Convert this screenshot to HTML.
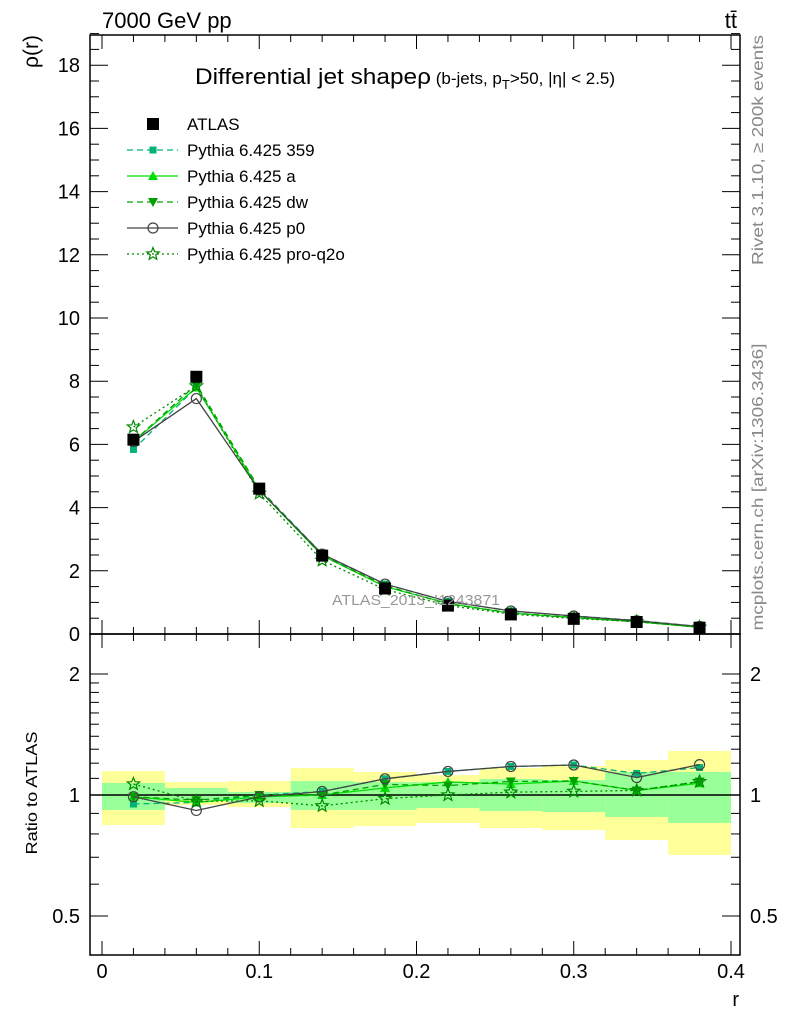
<!DOCTYPE html>
<html><head><meta charset="utf-8"><style>
body{margin:0;background:#fff;font-family:"Liberation Sans",sans-serif}
svg text{font-family:"Liberation Sans","DejaVu Sans",sans-serif}
</style></head><body>
<svg id="c" width="786" height="1024" xmlns="http://www.w3.org/2000/svg"></svg>
<script>
const rCenters=[0.02,0.06,0.10,0.14,0.18,0.22,0.26,0.30,0.34,0.38];
const atlas=[6.15,8.14,4.6,2.48,1.44,0.9,0.62,0.48,0.38,0.2];
const p359=[5.84,7.8,4.6,2.53,1.58,1.03,0.73,0.57,0.43,0.234];
const pA=[6.09,7.8,4.55,2.48,1.5,0.97,0.66,0.52,0.39,0.214];
const pDW=[6.09,7.9,4.6,2.48,1.53,0.95,0.67,0.52,0.39,0.216];
const pP0=[6.09,7.45,4.55,2.53,1.58,1.03,0.73,0.57,0.42,0.238];
const pQ2O=[6.55,7.85,4.45,2.33,1.41,0.9,0.63,0.49,0.39,0.216];
const bandYellowHi=[1.147,1.077,1.083,1.167,1.141,1.121,1.167,1.181,1.222,1.287];
const bandYellowLo=[0.842,0.944,0.933,0.828,0.837,0.852,0.828,0.818,0.773,0.709];
const bandGreenHi=[1.071,1.041,1.017,1.083,1.077,1.077,1.096,1.090,1.141,1.141];
const bandGreenLo=[0.918,0.972,0.955,0.918,0.918,0.928,0.913,0.907,0.882,0.852];
const xTicks=[0,0.1,0.2,0.3,0.4];
const yTicks=[0,2,4,6,8,10,12,14,16,18];
const rTicks=[0.5,1,2];

const svg=document.getElementById('c');
const NS='http://www.w3.org/2000/svg';
function el(t,a,p){const e=document.createElementNS(NS,t);for(const k in a)e.setAttribute(k,a[k]);(p||svg).appendChild(e);return e;}
const L=90,R=740,T=35,MB=634,RB=955;
const x=v=>102+v*1572.5;
const y=v=>634-v*31.6;
const yr=v=>795-121*Math.log2(v);

for(let i=0;i<rCenters.length;i++){
 const x0=x(rCenters[i]-0.02),x1=x(rCenters[i]+0.02);
 const b=el('rect',{x:x0,y:yr(bandYellowHi[i]),width:x1-x0,height:yr(bandYellowLo[i])-yr(bandYellowHi[i]),fill:'#ffff99'});
 
 
 const g=el('rect',{x:x0,y:yr(bandGreenHi[i]),width:x1-x0,height:yr(bandGreenLo[i])-yr(bandGreenHi[i]),fill:'#99ff99'});
 
 
}
el('line',{x1:L,x2:R,y1:yr(1),y2:yr(1),stroke:'#000','stroke-width':1.5});

const f1=el('rect',{x:L,y:T,width:R-L,height:MB-T,fill:'none',stroke:'#000','stroke-width':1.5});

const f2=el('rect',{x:L,y:MB,width:R-L,height:RB-MB,fill:'none',stroke:'#000','stroke-width':1.5});


for(let v=0;v<=0.4001;v+=0.02){
 const maj=Math.abs(v*10-Math.round(v*10))<1e-6;const len=maj?14:7;
 for(const [yt,dir] of [[T,1],[MB,-1],[MB,1],[RB,-1]]) el('line',{x1:x(v),x2:x(v),y1:yt,y2:yt+dir*len,stroke:'#000'});
}
xTicks.forEach(v=>{const t=el('text',{x:x(v),y:978,'font-size':20,'text-anchor':'middle'});t.textContent=v===0?'0':v.toFixed(1);
 });
for(let v=0;v<=19;v+=0.5){const maj=v%2===0;const len=maj?18:9;
 el('line',{x1:L,x2:L+len,y1:y(v),y2:y(v),stroke:'#000'});el('line',{x1:R,x2:R-len,y1:y(v),y2:y(v),stroke:'#000'});}
yTicks.forEach(v=>{const t=el('text',{x:80,y:y(v)+7,'font-size':20,'text-anchor':'end'});t.textContent=v;
 });
[0.5,0.6,0.7,0.8,0.9,1,1.1,1.2,1.3,1.4,1.5,1.6,1.7,1.8,1.9,2].forEach(v=>{const maj=rTicks.includes(v);const len=maj?18:9;
 el('line',{x1:L,x2:L+len,y1:yr(v),y2:yr(v),stroke:'#000'});el('line',{x1:R,x2:R-len,y1:yr(v),y2:yr(v),stroke:'#000'});});
rTicks.forEach(v=>{for(const [xx,an] of [[80,'end'],[750,'start']]){const t=el('text',{x:xx,y:yr(v)+7,'font-size':20,'text-anchor':an});t.textContent=v;
 }});

function marker(kind,cx,cy,col,g){
 if(kind==='sq')el('rect',{x:cx-6,y:cy-6,width:12,height:12,fill:col},g);
 else if(kind==='ssq')el('rect',{x:cx-3.5,y:cy-3.5,width:7,height:7,fill:col},g);
 else if(kind==='tu')el('polygon',{points:`${cx},${cy-5} ${cx-5},${cy+4} ${cx+5},${cy+4}`,fill:col},g);
 else if(kind==='td')el('polygon',{points:`${cx},${cy+5} ${cx-5},${cy-4} ${cx+5},${cy-4}`,fill:col},g);
 else if(kind==='circ')el('circle',{cx:cx,cy:cy,r:5,fill:'none',stroke:col,'stroke-width':1.2},g);
 else if(kind==='star'){let p=[];for(let k=0;k<10;k++){const a=-Math.PI/2+k*Math.PI/5,r=k%2?2.8:6.5;p.push((cx+r*Math.cos(a)).toFixed(1)+','+(cy+r*Math.sin(a)).toFixed(1));}
  el('polygon',{points:p.join(' '),fill:'none',stroke:col,'stroke-width':1.2},g);}
}
const series=[
 {name:'pythia-359',label:'Pythia 6.425 359',d:p359,col:'#00b377',dash:'6,4',m:'ssq'},
 {name:'pythia-a',label:'Pythia 6.425 a',d:pA,col:'#00dd00',dash:'',m:'tu'},
 {name:'pythia-dw',label:'Pythia 6.425 dw',d:pDW,col:'#00a000',dash:'6,4',m:'td'},
 {name:'pythia-p0',label:'Pythia 6.425 p0',d:pP0,col:'#444444',dash:'',m:'circ'},
 {name:'pythia-pro-q2o',label:'Pythia 6.425 pro-q2o',d:pQ2O,col:'#008800',dash:'2,3',m:'star'}];
series.forEach(s=>{
 const g=el('g',{});
 el('polyline',{points:s.d.map((v,i)=>x(rCenters[i])+','+y(v)).join(' '),fill:'none',stroke:s.col,'stroke-width':1.3,'stroke-dasharray':s.dash},g);
 s.d.forEach((v,i)=>marker(s.m,x(rCenters[i]),y(v),s.col,g));
 const gr=el('g',{});
 el('polyline',{points:s.d.map((v,i)=>x(rCenters[i])+','+yr(v/atlas[i])).join(' '),fill:'none',stroke:s.col,'stroke-width':1.3,'stroke-dasharray':s.dash},gr);
 s.d.forEach((v,i)=>marker(s.m,x(rCenters[i]),yr(v/atlas[i]),s.col,gr));
});
const ga=el('g',{});
atlas.forEach((v,i)=>marker('sq',x(rCenters[i]),y(v),'#000',ga));

const lg=el('g',{});
marker('sq',153,124,'#000',lg);
let t=el('text',{x:187,y:130,'font-size':17},lg);t.textContent='ATLAS';
series.forEach((s,i)=>{const yy=150+i*26;
 el('line',{x1:127,x2:178,y1:yy,y2:yy,stroke:s.col,'stroke-width':1.3,'stroke-dasharray':s.dash},lg);
 marker(s.m,153,yy,s.col,lg);
 const tt=el('text',{x:187,y:yy+6,'font-size':17},lg);tt.textContent=s.label;
 });

function txt(s,a,name){const e=el('text',a);e.innerHTML=s;return e;}
txt('7000 GeV pp',{x:102,y:28,'font-size':22},'energy-label');
txt('tt&#772;',{x:737,y:28,'font-size':22,'text-anchor':'end'},'process-label');
txt('<tspan textLength="236" lengthAdjust="spacingAndGlyphs">Differential jet shapeρ</tspan><tspan font-size="17"> (b-jets, p</tspan><tspan font-size="13" dy="5">T</tspan><tspan font-size="17" dy="-5">&gt;50, |η| &lt; 2.5)</tspan>',{x:195,y:84,'font-size':22},'plot-title');
txt('ρ(r)',{x:0,y:0,'font-size':21,'text-anchor':'end',transform:'translate(38,35) rotate(-90)'},'y-axis-title');
txt('Ratio to ATLAS',{x:0,y:0,'font-size':16,'text-anchor':'middle',textLength:123,lengthAdjust:'spacingAndGlyphs',transform:'translate(37,793) rotate(-90)'},'ratio-axis-title');
txt('r',{x:739,y:1006,'font-size':20,'text-anchor':'end'},'x-axis-title');
txt('ATLAS_2013_I1243871',{x:416,y:605,'font-size':15,fill:'#999','text-anchor':'middle',textLength:168,lengthAdjust:'spacingAndGlyphs'},'analysis-watermark');
txt('Rivet 3.1.10, ≥ 200k events',{x:0,y:0,'font-size':16,fill:'#888','text-anchor':'middle',textLength:230,lengthAdjust:'spacingAndGlyphs',transform:'translate(763,150) rotate(-90)'},'rivet-label');
txt('mcplots.cern.ch [arXiv:1306.3436]',{x:0,y:0,'font-size':16,fill:'#888','text-anchor':'middle',textLength:287,lengthAdjust:'spacingAndGlyphs',transform:'translate(763,487) rotate(-90)'},'mcplots-label');
</script>
</body></html>
